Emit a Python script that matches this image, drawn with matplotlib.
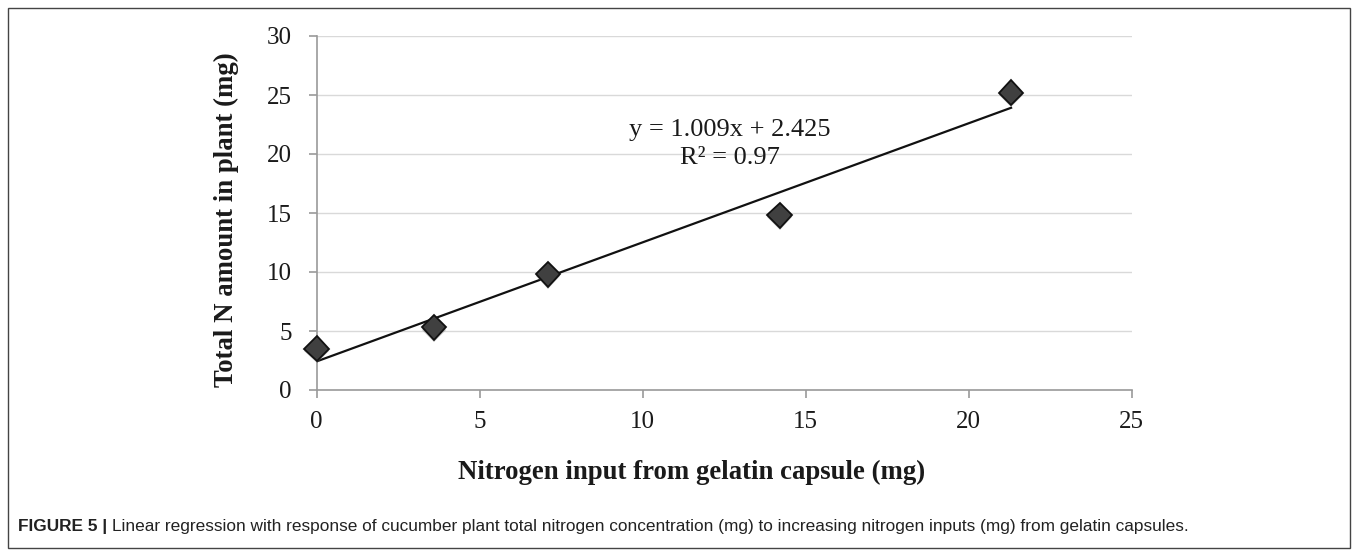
import matplotlib
matplotlib.use("Agg")
import matplotlib.pyplot as plt
from matplotlib import font_manager
from matplotlib.patches import Rectangle
import matplotlib.patheffects as pe
import numpy as np

# ---- data ----
x_input = [0.0, 3.6, 7.1, 14.2, 21.3]
n_plant = [3.5, 5.3, 9.8, 14.8, 25.2]
slope = 1.009
intercept = 2.425
r2 = 0.97
x_ticks = [0, 5, 10, 15, 20, 25]
y_ticks = [0, 5, 10, 15, 20, 25, 30]

names = {f.name for f in font_manager.fontManager.ttflist}
serif = "Liberation Serif" if "Liberation Serif" in names else "DejaVu Serif"
sans_c = "Liberation Sans Narrow" if "Liberation Sans Narrow" in names else "Liberation Sans"

W, H = 1358, 556
fig = plt.figure(figsize=(W / 100, H / 100), dpi=100)

# outer frame
fig.patches.append(Rectangle((8 / W, 8 / H), (1350 - 8) / W, (548 - 8) / H,
                             transform=fig.transFigure, fill=False,
                             edgecolor="#444444", linewidth=1.0))

ax = fig.add_axes([316.7 / W, 1 - 390 / H, (1131.7 - 316.7) / W, (390 - 36) / H])
ax.set_xlim(0, 25)
ax.set_ylim(0, 30)
ax.set_xticks(x_ticks)
ax.set_yticks(y_ticks)
ax.set_xticklabels([str(t) for t in x_ticks], fontfamily=serif, fontsize=18)
ax.set_yticklabels([str(t) for t in y_ticks], fontfamily=serif, fontsize=18)
ax.grid(axis="y", color="#d9d9d9", linewidth=1.0)
ax.set_axisbelow(True)
for s in ["top", "right"]:
    ax.spines[s].set_visible(False)
for s in ["left", "bottom"]:
    ax.spines[s].set_color("#9a9a9a")
    ax.spines[s].set_linewidth(1.2)
ax.tick_params(axis="both", direction="out", length=6, width=1.2, color="#9a9a9a",
               labelcolor="#1a1a1a")
ax.tick_params(axis="x", pad=9)
ax.tick_params(axis="y", pad=12)

# regression line
xl = np.array([min(x_input), max(x_input)])
ax.plot(xl, slope * xl + intercept, color="#111111", linewidth=1.6, zorder=3)

# points
ax.plot(x_input, n_plant, linestyle="none", marker="D", markersize=12.5,
        markerfacecolor="#404040", markeredgecolor="#111111", markeredgewidth=1.3,
        zorder=4, clip_on=False,
        path_effects=[pe.SimplePatchShadow(offset=(0, -1.5), shadow_rgbFace="#888888", alpha=0.45),
                      pe.Normal()])

ax.text(12.68, 22.0, f"y = {slope}x + {intercept}", fontfamily=serif, fontsize=19,
        ha="center", va="center", color="#1a1a1a")
ax.text(12.68, 19.7, f"R² = {r2}", fontfamily=serif, fontsize=19,
        ha="center", va="center", color="#1a1a1a")

fig.text(692 / W, 1 - 472 / H, "Nitrogen input from gelatin capsule (mg)", fontfamily=serif,
         fontsize=19.3, fontweight="bold", ha="center", va="center", color="#1a1a1a")
fig.text(226 / W, 1 - 220 / H, "Total N amount in plant (mg)", fontfamily=serif,
         fontsize=19.3, fontweight="bold", ha="center", va="center", rotation=90,
         color="#1a1a1a")

# caption
t1 = fig.text(18 / W, 1 - 527 / H, "FIGURE 5 |", fontfamily=sans_c, fontweight="bold",
              fontsize=12.4, ha="left", va="center", color="#222222")
fig.canvas.draw()
bb = t1.get_window_extent()
fig.text((bb.x1 + 5) / W, 1 - 527 / H,
         "Linear regression with response of cucumber plant total nitrogen concentration (mg) "
         "to increasing nitrogen inputs (mg) from gelatin capsules.",
         fontfamily=sans_c, fontsize=12.4, ha="left", va="center", color="#222222")

fig.savefig("out.png", dpi=100)
